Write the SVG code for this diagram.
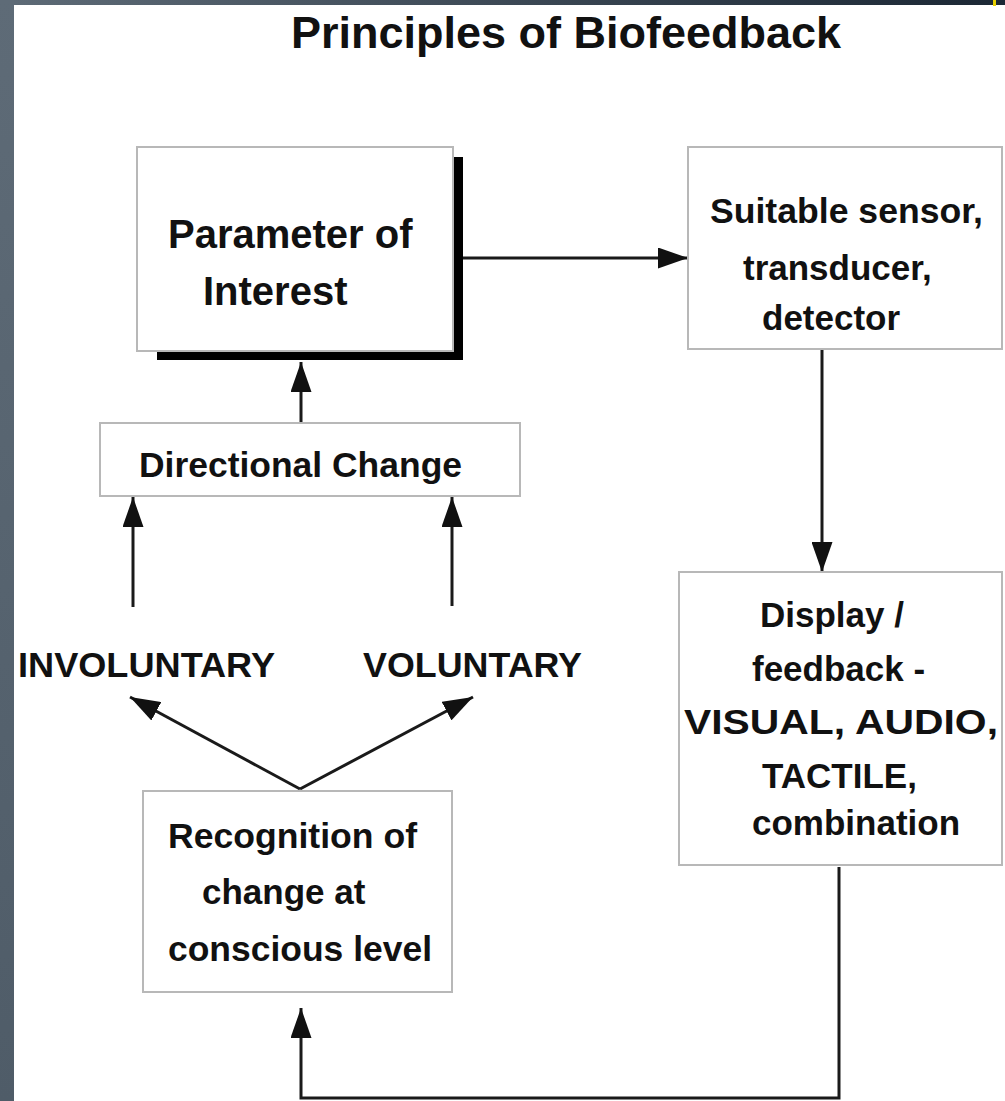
<svg xmlns="http://www.w3.org/2000/svg" width="1005" height="1101" viewBox="0 0 1005 1101">
<defs>
<style>
.box{fill:#ffffff;stroke:#b8b8b8;stroke-width:2}
.t{font-family:"Liberation Sans",Arial,sans-serif;font-weight:bold;fill:#111111}
.c{fill:none;stroke:#1a1a1a;stroke-width:3}
</style>
<linearGradient id="topg" x1="0" y1="0" x2="1" y2="0">
<stop offset="0" stop-color="#5e6b77"/>
<stop offset="1" stop-color="#1b2734"/>
</linearGradient>
<linearGradient id="leftg" x1="0" y1="0" x2="0" y2="1">
<stop offset="0" stop-color="#5e6b77"/>
<stop offset="1" stop-color="#4f5c68"/>
</linearGradient>
<marker id="ah" viewBox="0 0 10 7" refX="10" refY="3.5" markerWidth="10" markerHeight="7" orient="auto" markerUnits="strokeWidth">
<path d="M0,0 L10,3.5 L0,7 z" fill="#111111"/>
</marker>
</defs>
<rect x="0" y="0" width="1005" height="1101" fill="#ffffff"/>
<rect x="0" y="0" width="1005" height="5" fill="url(#topg)"/>
<rect x="0" y="0" width="14" height="1101" fill="url(#leftg)"/>
<rect x="993" y="0" width="3" height="6" fill="#e6cf00"/>

<text class="t" x="566" y="48" font-size="45" text-anchor="middle">Principles of Biofeedback</text>

<g id="connectors">
<line class="c" x1="463" y1="258" x2="688" y2="258" marker-end="url(#ah)"/>
<line class="c" x1="822" y1="349" x2="822" y2="572" marker-end="url(#ah)"/>
<line class="c" x1="301" y1="423" x2="301" y2="362" marker-end="url(#ah)"/>
<line class="c" x1="133" y1="607" x2="133" y2="497" marker-end="url(#ah)"/>
<line class="c" x1="452" y1="606" x2="452" y2="497" marker-end="url(#ah)"/>
<line class="c" x1="300" y1="789" x2="130" y2="697" marker-end="url(#ah)"/>
<line class="c" x1="300" y1="789" x2="473" y2="697" marker-end="url(#ah)"/>
<polyline class="c" points="839,867 839,1098 301,1098 301,1008" marker-end="url(#ah)"/>
</g>

<g id="parameter">
<rect x="157" y="157" width="306" height="203" fill="#000000"/>
<rect class="box" x="137" y="147" width="316" height="204"/>
<text class="t" x="168" y="248" font-size="40">Parameter of</text>
<text class="t" x="203" y="305" font-size="40">Interest</text>
</g>

<g id="sensor">
<rect class="box" x="688" y="147" width="314" height="202"/>
<text class="t" x="710" y="223" font-size="35" textLength="273" lengthAdjust="spacingAndGlyphs">Suitable sensor,</text>
<text class="t" x="743" y="280" font-size="35">transducer,</text>
<text class="t" x="762" y="330" font-size="35">detector</text>
</g>

<g id="display">
<rect class="box" x="679" y="572" width="323" height="293"/>
<text class="t" x="760" y="627" font-size="35">Display /</text>
<text class="t" x="752" y="681" font-size="35">feedback -</text>
<text class="t" x="684" y="734" font-size="35" textLength="314" lengthAdjust="spacingAndGlyphs">VISUAL, AUDIO,</text>
<text class="t" x="762" y="788" font-size="35">TACTILE,</text>
<text class="t" x="752" y="835" font-size="35">combination</text>
</g>

<g id="directional">
<rect class="box" x="100" y="423" width="420" height="73"/>
<text class="t" x="139" y="477" font-size="35" textLength="323" lengthAdjust="spacingAndGlyphs">Directional Change</text>
</g>

<g id="involuntary">
<text class="t" x="18" y="677" font-size="35" textLength="257" lengthAdjust="spacingAndGlyphs">INVOLUNTARY</text>
</g>
<g id="voluntary">
<text class="t" x="363" y="677" font-size="35" textLength="219" lengthAdjust="spacingAndGlyphs">VOLUNTARY</text>
</g>

<g id="recognition">
<rect class="box" x="143" y="791" width="309" height="201"/>
<text class="t" x="168" y="848" font-size="35" textLength="249" lengthAdjust="spacingAndGlyphs">Recognition of</text>
<text class="t" x="202" y="904" font-size="35">change at</text>
<text class="t" x="168" y="961" font-size="35" textLength="264" lengthAdjust="spacingAndGlyphs">conscious level</text>
</g>
</svg>
